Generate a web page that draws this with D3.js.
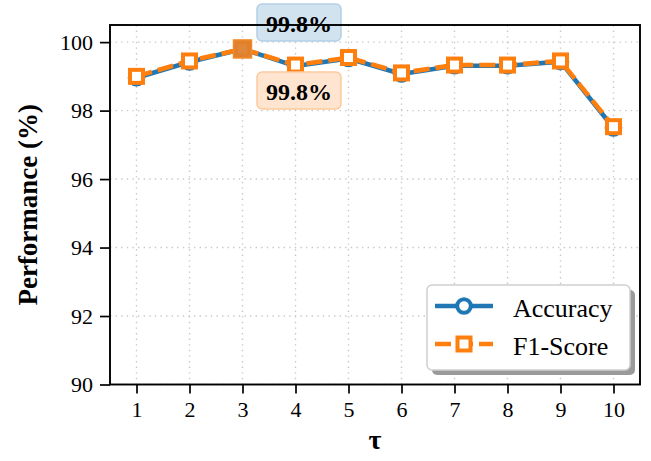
<!DOCTYPE html>
<html>
<head>
<meta charset="utf-8">
<script src="https://cdn.jsdelivr.net/npm/d3@7"></script>
<style>
  body { margin: 0; background: #fff; }
  svg { display: block; }
</style>
</head>
<body>
<svg id="chart" width="651" height="461"></svg>
<script>
// Threshold values and the two metrics measured at each one
const taus = [1, 2, 3, 4, 5, 6, 7, 8, 9, 10];
const accuracy = [98.96, 99.42, 99.80, 99.30, 99.52, 99.07, 99.31, 99.31, 99.43, 97.49];
const f1Score  = [99.00, 99.45, 99.80, 99.33, 99.55, 99.10, 99.33, 99.33, 99.45, 97.53];
const xTickValues = [1, 2, 3, 4, 5, 6, 7, 8, 9, 10];
const yTickValues = [90, 92, 94, 96, 98, 100];
const seriesNames = ["Accuracy", "F1-Score"];
const bestIndex = 2; // tau = 3 gives the best score on both metrics

const BLUE = "#1f77b4", ORANGE = "#ff7f0e";
const FONT = "'Liberation Serif', 'Times New Roman', serif";

const svg = d3.select("#chart");
const W = 651, H = 461;
const m = { left: 110, right: 11, top: 25, bottom: 76.5 };

const x = d3.scaleLinear().domain([0.5, 10.5]).range([m.left, W - m.right]);
const y = d3.scaleLinear().domain([90, 100.5]).range([H - m.bottom, m.top]);

// dotted grid
const grid = svg.append("g");
grid.selectAll("line.v").data(xTickValues).join("line")
  .attr("x1", d => x(d)).attr("x2", d => x(d))
  .attr("y1", m.top).attr("y2", H - m.bottom)
  .attr("stroke", "#c8c8c8").attr("stroke-width", 1.4).attr("stroke-dasharray", "1.4,4.2");
grid.selectAll("line.h").data(yTickValues).join("line")
  .attr("x1", m.left).attr("x2", W - m.right)
  .attr("y1", d => y(d)).attr("y2", d => y(d))
  .attr("stroke", "#c8c8c8").attr("stroke-width", 1.4).attr("stroke-dasharray", "1.4,4.2");

const line = d3.line().x((d, i) => x(taus[i])).y(d => y(d));
const LW = 4.6, SQ = 13, MW = 4;

// Accuracy: solid blue with open circles
svg.append("path").datum(accuracy)
  .attr("d", line).attr("fill", "none")
  .attr("stroke", BLUE).attr("stroke-width", LW).attr("stroke-linejoin", "round");
svg.append("g").selectAll("circle").data(accuracy).join("circle")
  .attr("cx", (d, i) => x(taus[i])).attr("cy", d => y(d)).attr("r", 6.8)
  .attr("fill", "#fff").attr("stroke", BLUE).attr("stroke-width", MW);

// F1-Score: dashed orange with open squares
svg.append("path").datum(f1Score)
  .attr("d", line).attr("fill", "none")
  .attr("stroke", ORANGE).attr("stroke-width", LW).attr("stroke-dasharray", "16,6")
  .attr("stroke-linejoin", "round");
svg.append("g").selectAll("rect").data(f1Score).join("rect")
  .attr("x", (d, i) => x(taus[i]) - SQ / 2).attr("y", d => y(d) - SQ / 2)
  .attr("width", SQ).attr("height", SQ)
  .attr("fill", "#fff").attr("stroke", ORANGE).attr("stroke-width", MW);

// highlight of the best point
const bx = x(taus[bestIndex]), by = y(f1Score[bestIndex]);
const hs = 18;
svg.append("rect")
  .attr("x", bx - hs / 2).attr("y", by - hs / 2).attr("width", hs).attr("height", hs)
  .attr("fill", "#de812e").attr("fill-opacity", 0.95)
  .attr("stroke", "#f28a26").attr("stroke-width", 1.5);

// value callouts for the best point
function callout(value, dx, dy, fill, stroke) {
  const g = svg.append("g");
  const tx = bx + dx, ty = by + dy;
  const t = g.append("text")
    .attr("x", tx).attr("y", ty)
    .attr("text-anchor", "middle")
    .attr("font-family", FONT).attr("font-weight", "bold").attr("font-size", 24)
    .attr("fill", "#000")
    .text(value.toFixed(1) + "%");
  const bb = t.node().getBBox();
  g.insert("rect", "text")
    .attr("x", bb.x - 9).attr("y", ty - 28).attr("width", bb.width + 18).attr("height", 37)
    .attr("rx", 5).attr("fill", fill).attr("stroke", stroke).attr("stroke-width", 1.5);
}
callout(accuracy[bestIndex], 56.5, -17, "#d2e3f0", "#b3cfe6");
callout(f1Score[bestIndex], 56.5, 51, "#ffe5cf", "#fcc99d");

// axes
const xAxis = d3.axisBottom(x).tickValues(xTickValues).tickSize(9).tickSizeOuter(0).tickPadding(8)
  .tickFormat(d3.format("d"));
const yAxis = d3.axisLeft(y).tickValues(yTickValues).tickSize(10).tickSizeOuter(0).tickPadding(7)
  .tickFormat(d3.format("d"));

const gx = svg.append("g").attr("transform", `translate(0,${H - m.bottom})`).call(xAxis);
const gy = svg.append("g").attr("transform", `translate(${m.left},0)`).call(yAxis);
[gx, gy].forEach(g => {
  g.select(".domain").remove();
  g.selectAll(".tick line").attr("stroke", "#000").attr("stroke-width", 1.7);
  g.selectAll(".tick text").attr("font-family", FONT).attr("font-size", 22).attr("fill", "#000");
});

// frame
svg.append("rect")
  .attr("x", m.left).attr("y", m.top)
  .attr("width", W - m.right - m.left).attr("height", H - m.bottom - m.top)
  .attr("fill", "none").attr("stroke", "#000").attr("stroke-width", 1.9);

// axis titles
svg.append("text")
  .attr("transform", `translate(37,${(m.top + H - m.bottom) / 2}) rotate(-90)`)
  .attr("text-anchor", "middle")
  .attr("font-family", FONT).attr("font-weight", "bold").attr("font-size", 27)
  .text("Performance (%)");
svg.append("text")
  .attr("x", (m.left + W - m.right) / 2).attr("y", 449)
  .attr("text-anchor", "middle")
  .attr("font-family", FONT).attr("font-weight", "bold").attr("font-size", 28)
  .text("τ");

// legend
const lg = svg.append("g").attr("transform", "translate(427,285)");
const lw = 203, lh = 85;
lg.append("rect").attr("x", 5).attr("y", 5).attr("width", lw).attr("height", lh)
  .attr("rx", 5).attr("fill", "#9a9a9a");
lg.append("rect").attr("x", 0).attr("y", 0).attr("width", lw).attr("height", lh)
  .attr("rx", 5).attr("fill", "#fff").attr("stroke", "#d0d0d0").attr("stroke-width", 1.5);

const rows = lg.selectAll("g.row").data(seriesNames).join("g")
  .attr("transform", (d, i) => `translate(0,${21 + i * 38})`);
rows.append("line")
  .attr("x1", 8).attr("x2", 66).attr("y1", 0).attr("y2", 0)
  .attr("stroke", (d, i) => i === 0 ? BLUE : ORANGE).attr("stroke-width", LW)
  .attr("stroke-dasharray", (d, i) => i === 0 ? null : "16,6");
rows.filter((d, i) => i === 0).append("circle")
  .attr("cx", 37).attr("cy", 0).attr("r", 6.8)
  .attr("fill", "#fff").attr("stroke", BLUE).attr("stroke-width", MW);
rows.filter((d, i) => i === 1).append("rect")
  .attr("x", 37 - SQ / 2).attr("y", -SQ / 2).attr("width", SQ).attr("height", SQ)
  .attr("fill", "#fff").attr("stroke", ORANGE).attr("stroke-width", MW);
rows.append("text")
  .attr("x", 86).attr("y", 11)
  .attr("font-family", FONT).attr("font-size", 26).attr("fill", "#000")
  .text(d => d);
</script>
</body>
</html>
